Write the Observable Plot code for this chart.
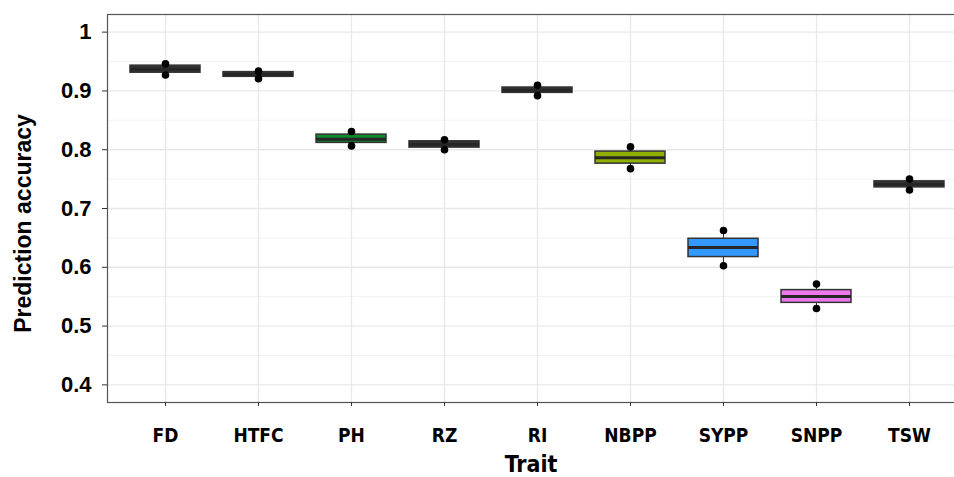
<!DOCTYPE html>
<html>
<head>
<meta charset="utf-8">
<script src="https://cdn.jsdelivr.net/npm/d3@7"></script>
<script src="https://cdn.jsdelivr.net/npm/@observablehq/plot@0.6"></script>
<style>
  html, body { margin: 0; padding: 0; background: #fff; overflow: hidden; }
  #chart { width: 954px; height: 477px; overflow: hidden; }
  #chart svg { display: block; max-width: none !important; width: 966px !important; height: 477px !important; }
</style>
</head>
<body>
<div id="chart"></div>
<script>
// Traits (categories)
const traits = ["FD", "HTFC", "PH", "RZ", "RI", "NBPP", "SYPP", "SNPP", "TSW"];
// Box statistics
const lowPoint  = [0.927, 0.9206, 0.8065, 0.800, 0.892, 0.7678, 0.6025, 0.5298, 0.7315];
const q1        = [0.931, 0.924,  0.8116, 0.8036, 0.8967, 0.7763, 0.6174, 0.5395, 0.7359];
const median    = [0.937, 0.928,  0.818,  0.809,  0.901,  0.7865, 0.6337, 0.5503, 0.741];
const q3        = [0.943, 0.932,  0.8257, 0.8143, 0.9058, 0.7968, 0.6485, 0.5612, 0.7462];
const highPoint = [0.946, 0.9336, 0.831,  0.817,  0.9095, 0.8048, 0.6625, 0.5714, 0.750];
const fills     = ["#333333", "#333333", "#0d8a2c", "#333333", "#333333", "#8fb000", "#3399ff", "#ee77ee", "#333333"];
// Axis ticks
const yTicks = [0.4, 0.5, 0.6, 0.7, 0.8, 0.9, 1.0];
const yMinorTicks = [0.45, 0.55, 0.65, 0.75, 0.85, 0.95];

const boxes = traits.map((t, i) => ({trait: t, lo: lowPoint[i], q1: q1[i], med: median[i], q3: q3[i], hi: highPoint[i], fill: fills[i]}));
const pts = boxes.flatMap(d => [{trait: d.trait, v: d.lo}, {trait: d.trait, v: d.hi}]);

const narrow = "'Liberation Sans Narrow', 'DejaVu Sans Condensed', sans-serif";

const chart = Plot.plot({
  width: 966,
  height: 477,
  marginLeft: 107,
  marginRight: 0,
  marginTop: 14,
  marginBottom: 75,
  style: {fontFamily: "'Liberation Sans', Arial, sans-serif", background: "#fff"},
  x: {type: "band", domain: traits, paddingInner: 0.25, paddingOuter: 0.225, label: null},
  y: {domain: [0.37, 1.03], label: null},
  marks: [
    Plot.ruleY(yMinorTicks, {stroke: "#efefef", strokeWidth: 0.8}),
    Plot.ruleY(yTicks, {stroke: "#e8e8e8", strokeWidth: 1.4}),
    Plot.gridX({stroke: "#e8e8e8", strokeOpacity: 1, strokeWidth: 1.4}),
    Plot.ruleX(boxes, {x: "trait", y1: "lo", y2: "hi", stroke: "#333", strokeWidth: 1}),
    Plot.barY(boxes, {x: "trait", y1: "q1", y2: "q3", fill: d => d.fill, stroke: "#333", strokeWidth: 1.5}),
    Plot.tickY(boxes, {x: "trait", y: "med", stroke: "#262626", strokeWidth: 3}),
    Plot.dot(pts, {x: "trait", y: "v", r: 3.8, fill: "#000", stroke: "none"}),
    Plot.frame({stroke: "#555", strokeWidth: 1.2}),
    Plot.axisY({ticks: yTicks, tickSize: 5, tickPadding: 11, stroke: "#333",
      tickFormat: d => String(+d.toFixed(1)), fontSize: 22, fontWeight: "bold", fill: "#000", label: null}),
    Plot.axisX({tickSize: 4, tickPadding: 22, stroke: "#333", fontSize: 19, fontWeight: "bold",
      fill: "#000", fontFamily: narrow, label: null}),
    Plot.text(["Prediction accuracy"], {frameAnchor: "left", rotate: -90, dx: -84, dy: 15,
      fontSize: 23, fontWeight: "bold", fill: "#000", textAnchor: "middle", lineAnchor: "middle"}),
    Plot.text(["Trait"], {frameAnchor: "bottom", dx: -6, dy: 62, fontSize: 23, fontWeight: "bold",
      fill: "#000", fontFamily: narrow, textAnchor: "middle", lineAnchor: "middle"})
  ]
});
document.getElementById("chart").appendChild(chart);
</script>
</body>
</html>
